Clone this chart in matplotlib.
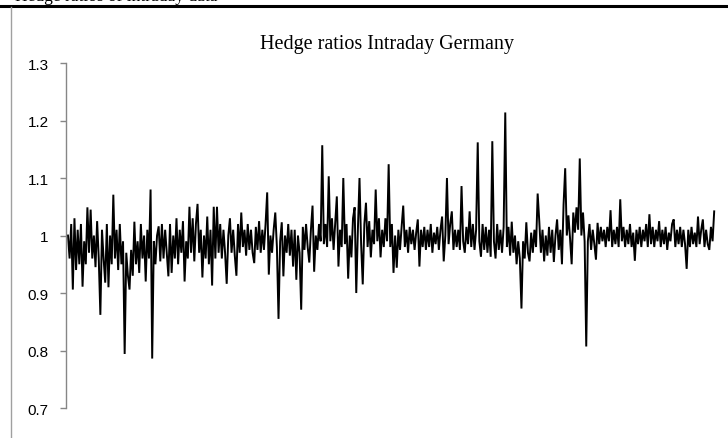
import matplotlib
matplotlib.use("Agg")
import matplotlib.pyplot as plt
from matplotlib.lines import Line2D

title = "Hedge ratios Intraday Germany"
caption = "Hedge ratios of intraday data"
y_ticks = [0.7, 0.8, 0.9, 1.0, 1.1, 1.2, 1.3]
y_labels = ["0.7", "0.8", "0.9", "1", "1.1", "1.2", "1.3"]

# hedge ratio series (left to right)
hedge = [
    1.00, 0.96, 1.02, 0.906, 1.03, 0.94, 1.01, 0.95, 1.02, 0.911,
    0.99, 0.95, 1.049, 0.97, 1.045, 0.96, 1.00, 0.945, 1.025, 0.96,
    0.862, 1.01, 0.96, 0.918, 1.02, 0.91, 1.00, 0.95, 1.071, 0.96,
    1.01, 0.94, 1.02, 0.95, 0.99, 0.794, 0.97, 0.93, 0.906, 0.975,
    0.93, 1.024, 0.95, 0.99, 0.935, 1.02, 0.96, 1.00, 0.92, 1.01,
    0.96, 1.08, 0.786, 0.99, 0.95, 1.00, 1.016, 0.955, 1.02, 0.96,
    1.01, 0.97, 0.929, 1.02, 0.935, 1.00, 0.96, 1.03, 0.95, 1.01,
    0.97, 1.025, 0.92, 0.99, 0.96, 1.05, 0.97, 1.03, 0.955, 1.02,
    1.055, 0.97, 1.01, 0.927, 1.00, 0.96, 1.033, 0.95, 1.01, 0.913,
    1.05, 0.96, 1.05, 0.97, 1.02, 0.96, 1.01, 0.97, 0.916, 1.00,
    1.03, 0.97, 1.01, 0.965, 0.93, 1.02, 0.97, 1.04, 0.98, 1.01,
    0.965, 1.02, 0.975, 1.01, 0.97, 0.952, 1.015, 0.975, 1.025, 0.97,
    1.01, 0.975, 1.02, 1.075, 0.932, 1.00, 0.97, 1.01, 1.04, 0.98,
    0.855, 0.99, 1.023, 0.929, 1.00, 0.97, 1.02, 0.965, 1.01, 0.946,
    1.01, 0.923, 1.00, 0.97, 0.871, 1.015, 0.975, 1.02, 0.98, 0.953,
    1.01, 1.052, 0.937, 1.00, 0.975, 1.02, 0.99, 1.157, 0.985, 1.02,
    0.98, 1.103, 0.99, 1.03, 0.975, 1.02, 1.068, 0.946, 1.01, 0.98,
    1.10, 0.985, 1.02, 0.925, 1.00, 0.962, 1.03, 1.049, 0.90, 1.01,
    1.10, 0.985, 0.915, 1.02, 1.057, 0.98, 1.025, 0.962, 1.01, 0.985,
    1.08, 0.99, 1.03, 0.962, 1.01, 0.98, 1.03, 0.99, 1.124, 0.98,
    1.02, 0.935, 1.00, 0.944, 1.01, 0.975, 1.015, 1.052, 0.98, 1.01,
    0.97, 1.015, 0.985, 1.01, 0.975, 1.005, 1.028, 0.946, 1.01, 0.98,
    1.015, 0.975, 1.01, 0.98, 1.02, 0.97, 1.005, 0.985, 1.015, 0.975,
    1.01, 1.033, 0.955, 1.00, 1.10, 0.985, 1.02, 1.042, 0.975, 1.01,
    0.98, 1.01, 0.975, 1.086, 0.99, 0.97, 1.015, 0.985, 1.042, 0.98,
    1.02, 0.975, 1.01, 1.162, 0.99, 0.963, 1.02, 0.975, 1.015, 0.97,
    1.01, 0.963, 1.164, 0.99, 0.96, 1.02, 0.975, 1.01, 0.97, 1.015,
    1.214, 0.98, 1.015, 0.965, 1.024, 0.97, 1.00, 0.95, 0.99, 0.96,
    0.873, 0.99, 0.96, 1.023, 0.97, 0.955, 1.005, 0.97, 1.01, 0.98,
    1.073, 1.025, 0.97, 1.01, 0.955, 1.00, 0.965, 1.015, 0.97, 1.01,
    0.954, 1.00, 1.028, 0.975, 1.01, 0.95, 1.054, 1.117, 1.00, 1.035,
    0.995, 0.95, 1.04, 1.005, 1.049, 1.01, 1.134, 1.00, 1.04, 0.99,
    0.807, 0.99, 1.02, 0.975, 1.01, 0.985, 0.958, 1.022, 0.985, 1.015,
    0.99, 1.01, 0.98, 1.015, 0.99, 1.044, 0.98, 1.01, 0.985, 1.015,
    0.98, 1.063, 0.99, 1.015, 0.98, 1.01, 0.985, 1.02, 0.98, 1.005,
    0.956, 1.01, 0.985, 1.015, 0.98, 1.01, 0.99, 1.02, 0.98, 1.037,
    0.985, 1.015, 0.98, 1.01, 0.99, 1.025, 0.98, 1.01, 0.985, 1.015,
    0.975, 1.005, 0.99, 1.02, 1.028, 0.98, 1.01, 0.985, 1.015, 0.98,
    1.01, 0.985, 0.942, 1.01, 0.98, 1.015, 0.985, 1.005, 0.98, 1.033,
    0.985, 1.01, 1.028, 0.98, 1.01, 0.985, 0.975, 1.015, 0.99, 1.042,
]

fig = plt.figure(figsize=(7.28, 4.39), dpi=100)
ax = fig.add_axes([0.0907, 0.0683, 0.893, 0.7859])

ax.plot(range(len(hedge)), hedge, color="black", linewidth=1.4,
        solid_joinstyle="miter")
ax.set_xlim(-1.2, len(hedge) - 1 + 1.2)
ax.set_ylim(0.7, 1.3)

ax.set_yticks(y_ticks, y_labels)
ax.set_xticks([])
for side in ["top", "right", "bottom"]:
    ax.spines[side].set_visible(False)
ax.spines["left"].set_color("#868686")
ax.spines["left"].set_linewidth(1.0)
ax.tick_params(axis="y", direction="out", length=4.5, width=1.0,
               color="#868686", pad=8, labelsize=11, labelcolor="black")
for lab in ax.get_yticklabels():
    lab.set_family(["Liberation Sans", "DejaVu Sans"])

fig.text(387 / 728, 1 - 49 / 439, title, ha="center", va="baseline",
         family="Liberation Serif", fontsize=14.5)

# caption of the page above, cut off by the image edge as in the source
fig.text(15 / 728, 1 - 1 / 439, caption, ha="left", va="baseline",
         family="Liberation Serif", fontsize=12.5)

# page frame: thick rule on top, thin grey rule on the left
fig.add_artist(Line2D([0, 1], [1 - 6.5 / 439] * 2, transform=fig.transFigure,
                      color="black", linewidth=2.2))
fig.add_artist(Line2D([10.5 / 728] * 2, [0, 1 - 8 / 439], transform=fig.transFigure,
                      color="#a0a0a0", linewidth=1.0))

fig.savefig("out.png", dpi=100)
